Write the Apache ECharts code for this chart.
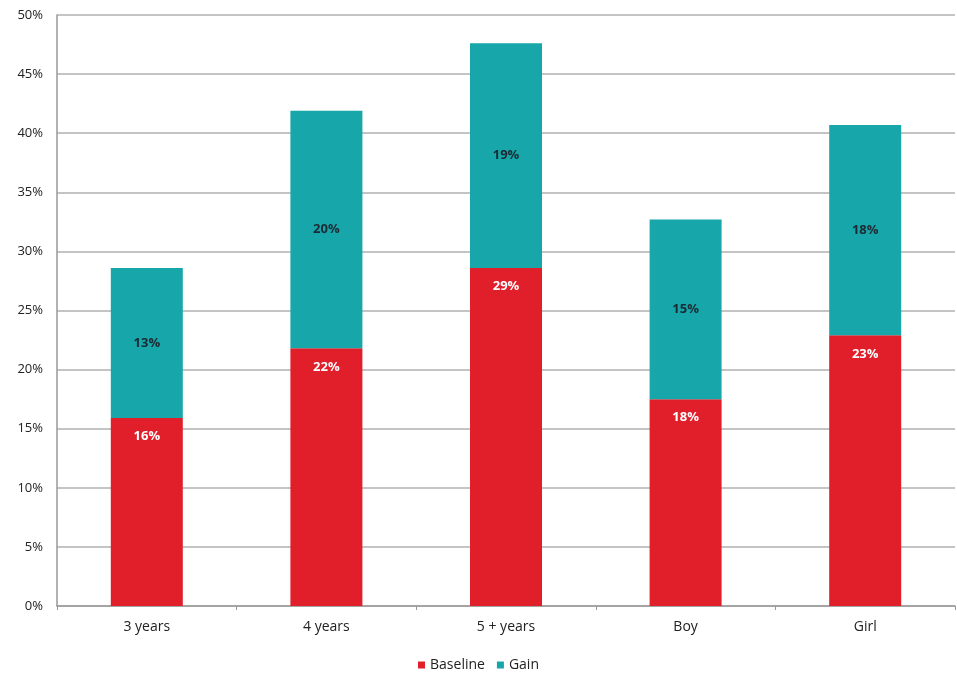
<!DOCTYPE html>
<html>
<head>
<meta charset="utf-8">
<script src="https://cdn.jsdelivr.net/npm/echarts@6/dist/echarts.min.js"></script>
<style>
  html, body { margin: 0; padding: 0; background: #fff; }
  #chart { width: 957px; height: 680px; }
</style>
</head>
<body>
<div id="chart"></div>
<script>
// Age / gender groups along the x axis
const categories = ['3 years', '4 years', '5 + years', 'Boy', 'Girl'];
// Share at baseline (%)
const baseline = [15.9, 21.8, 28.6, 17.5, 22.9];
// Additional gain on top of baseline (%)
const gain = [12.7, 20.1, 19.0, 15.2, 17.8];
// Y axis tick range
const yMin = 0, yMax = 50, yStep = 5;

const font = 'Open Sans';
const chart = echarts.init(document.getElementById('chart'));

chart.setOption({
  animation: false,
  textStyle: { fontFamily: font },
  grid: { left: 57, right: 2, top: 15, bottom: 74 },
  legend: {
    bottom: 3,
    left: 'center',
    itemWidth: 7,
    itemHeight: 7,
    itemGap: 12,
    icon: 'rect',
    textStyle: { fontSize: 14, color: '#222', fontFamily: font },
    data: ['Baseline', 'Gain']
  },
  xAxis: {
    type: 'category',
    data: categories,
    axisLine: { lineStyle: { color: '#999', width: 1.5 } },
    axisTick: { show: true, length: 4, lineStyle: { color: '#999' } },
    axisLabel: { fontSize: 14, color: '#222', margin: 14, fontFamily: font }
  },
  yAxis: {
    type: 'value',
    min: yMin,
    max: yMax,
    interval: yStep,
    axisLine: { show: true, lineStyle: { color: '#999', width: 1.5 } },
    axisTick: { show: false },
    splitLine: { lineStyle: { color: '#b0b0b0', width: 1.5 } },
    axisLabel: { fontSize: 13, color: '#222', margin: 14, formatter: v => v + '%', fontFamily: font }
  },
  series: [
    {
      name: 'Baseline',
      type: 'bar',
      stack: 'total',
      data: baseline,
      barWidth: 72,
      itemStyle: { color: '#e01f2b' },
      label: {
        show: true,
        position: 'insideTop',
        distance: 12,
        color: '#fff',
        fontSize: 13,
        fontWeight: 'bold',
        formatter: p => Math.round(p.value) + '%'
      }
    },
    {
      name: 'Gain',
      type: 'bar',
      stack: 'total',
      data: gain,
      barWidth: 72,
      itemStyle: { color: '#17a6a9' },
      label: {
        show: true,
        position: 'inside',
        color: '#1c2a33',
        fontSize: 13,
        fontWeight: 'bold',
        formatter: p => Math.round(p.value) + '%'
      }
    }
  ]
});
</script>
</body>
</html>
